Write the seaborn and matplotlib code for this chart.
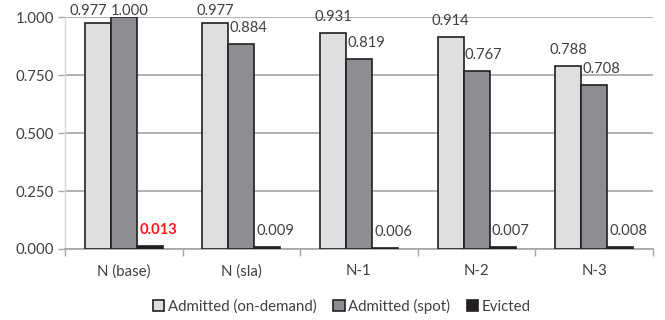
import numpy as np
import pandas as pd
import matplotlib
matplotlib.use("Agg")
import matplotlib.pyplot as plt
from matplotlib.ticker import FixedLocator, MultipleLocator
import seaborn as sns

# Scenario categories and admission / eviction ratios
scenarios = ["N (base)", "N (sla)", "N-1", "N-2", "N-3"]
series_names = ["Admitted (on-demand)", "Admitted (spot)", "Evicted"]
admitted_on_demand = [0.977, 0.977, 0.931, 0.914, 0.788]
admitted_spot = [1.000, 0.884, 0.819, 0.767, 0.708]
evicted = [0.013, 0.009, 0.006, 0.007, 0.008]
y_ticks = [0.0, 0.25, 0.5, 0.75, 1.0]

df = pd.DataFrame({
    "scenario": scenarios * 3,
    "series": [s for s in series_names for _ in scenarios],
    "value": admitted_on_demand + admitted_spot + evicted,
})

sns.set_theme(style="white")
plt.rcParams["font.family"] = ["Lato", "DejaVu Sans"]

text_color = "#404040"
colors = ["#DEDFE1", "#8D8E91", "#231F20"]

fig = plt.figure(figsize=(6.65, 3.2), dpi=100)
ax = fig.add_axes([65 / 665, 1 - 249 / 320, (653 - 65) / 665, (249 - 17.3) / 320])

sns.barplot(data=df, x="scenario", y="value", hue="series", order=scenarios,
            hue_order=series_names, palette=colors, width=0.663, gap=0,
            edgecolor="#231F20", linewidth=1.2, saturation=1, ax=ax,
            legend=True, zorder=3)

ax.set_ylim(0, 1.0)
ax.set_xlim(-0.5, len(scenarios) - 0.5)
ax.yaxis.set_major_locator(FixedLocator(y_ticks))
ax.set_yticklabels([f"{t:.3f}" for t in y_ticks])
ax.grid(axis="y", color="#A6A6A6", linewidth=1.2, zorder=0)
ax.set_axisbelow(True)
ax.set_xlabel("")
ax.set_ylabel("")

for side in ["top", "right"]:
    ax.spines[side].set_visible(False)
ax.spines["left"].set_color("#D9D9D9")
ax.spines["left"].set_linewidth(1.0)
ax.spines["bottom"].set_color("#A6A6A6")
ax.spines["bottom"].set_linewidth(1.2)

ax.xaxis.set_minor_locator(MultipleLocator(1, offset=0.5))
ax.tick_params(axis="x", which="major", length=0, pad=11, labelsize=10.8,
               labelcolor=text_color)
ax.tick_params(axis="x", which="minor", bottom=True, length=5, width=1.0,
               color="#A6A6A6")
ax.tick_params(axis="y", which="major", left=True, length=5, width=1.0,
               color="#A6A6A6", pad=3, labelsize=10.8, labelcolor=text_color)

# Value labels above each bar
px_per_unit = (249 - 17.3)
label_dx = [[-9, 6, 9], [0, 7, 8], [0, 7, 8], [0, 7, 8], [0, 7, 8]]
for si, container in enumerate(ax.containers):
    for gi, bar in enumerate(container):
        v = bar.get_height()
        xc = bar.get_x() + bar.get_width() / 2
        yc = min(v + 16 / px_per_unit, 1.0 + 6 / px_per_unit)
        highlight = (si == 2 and gi == 0)
        ax.annotate(f"{v:.3f}", xy=(xc, yc), xytext=(label_dx[gi][si], 0),
                    textcoords="offset pixels", ha="center", va="center",
                    fontsize=10.6, color="#FF1A1A" if highlight else text_color,
                    fontweight="bold" if highlight else "normal",
                    annotation_clip=False, zorder=5)

handles, labels = ax.get_legend_handles_labels()
ax.legend_.remove()
fig.legend(handles, labels, loc="center", bbox_to_anchor=(342 / 665, 1 - 306 / 320),
           ncol=3, frameon=False, fontsize=10.8, labelcolor=text_color,
           handlelength=0.75, handleheight=0.75, handletextpad=0.25,
           columnspacing=1.1, borderaxespad=0)

fig.savefig("out.png", dpi=100, facecolor="white")
